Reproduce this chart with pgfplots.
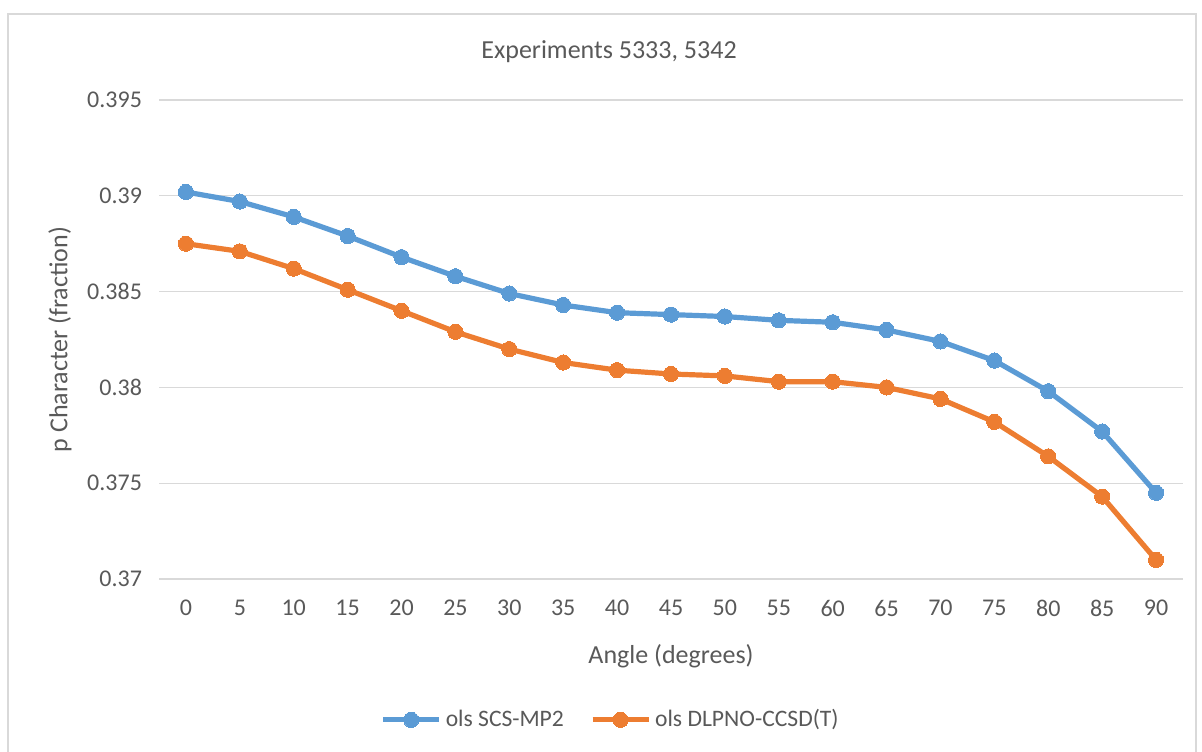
\documentclass[border=0pt]{standalone}
\usepackage{fontspec}
\setmainfont{Carlito}
\usepackage{pgfplots}
\pgfplotsset{compat=1.18}

\definecolor{xlblue}{HTML}{5B9BD5}
\definecolor{xlorange}{HTML}{ED7D31}
\definecolor{xltext}{HTML}{595959}
\definecolor{xlgrid}{HTML}{D9D9D9}

% angle (degrees) vs p character
\pgfplotstableread{
angle scs dlpno
0  0.3902 0.3875
5  0.3897 0.3871
10 0.3889 0.3862
15 0.3879 0.3851
20 0.3868 0.3840
25 0.3858 0.3829
30 0.3849 0.3820
35 0.3843 0.3813
40 0.3839 0.3809
45 0.3838 0.3807
50 0.3837 0.3806
55 0.3835 0.3803
60 0.3834 0.3803
65 0.3830 0.3800
70 0.3824 0.3794
75 0.3814 0.3782
80 0.3798 0.3764
85 0.3777 0.3743
90 0.3745 0.3710
}\datatable

\begin{document}
\begin{tikzpicture}[x=1pt,y=1pt]
  % page: 1202 x 751 px at 0.5pt per px, axis box at the origin
  \path[use as bounding box] (-79.5,-86) rectangle (521.5,289.5);
  % chart area border (bottom edge falls off the page)
  \draw[xlgrid, line width=0.6pt] (-75.5,-95) -- (-75.5,282.5) -- (518.5,282.5) -- (518.5,-95);

  \begin{axis}[
      scale only axis,
      width=512pt, height=239.5pt,
      xmin=-2.5, xmax=92.5,
      ymin=0.37, ymax=0.395,
      xtick={0,5,...,90},
      ytick={0.37,0.375,0.38,0.385,0.39,0.395},
      yticklabels={0.37,0.375,0.38,0.385,0.39,0.395},
      /pgf/number format/assume math mode=true,
      tick style={draw=none},
      axis line style={draw=none},
      ymajorgrids=true,
      major grid style={xlgrid, line width=0.6pt},
      ticklabel style={font=\fontsize{12}{14}\selectfont, text=xltext},
      xticklabel style={yshift=-7pt},
      yticklabel style={xshift=-5pt},
      xlabel={Angle (degrees)},
      ylabel={p Character (fraction)},
      label style={font=\fontsize{13}{15}\selectfont, text=xltext},
      xlabel style={yshift=-7pt},
      ylabel style={yshift=1pt},
      title={Experiments 5333, 5342},
      % Excel centres title and legend on the chart area, not the plot area
      title style={at={(0.4395,1)}, anchor=center, yshift=18pt,
        font=\fontsize{13}{15}\selectfont, text=xltext},
      legend style={at={(0.442,-0.294)}, anchor=center, draw=none,
        legend columns=2, font=\fontsize{11.8}{14}\selectfont, text=xltext,
        /tikz/every even column/.append style={column sep=11pt}},
      legend image code/.code={
        \draw[#1, mark repeat=2, mark phase=2] plot coordinates {(0pt,0pt) (14pt,0pt) (28pt,0pt)};},
  ]
    \addplot[xlblue, line width=2.6pt, mark=*, mark size=3.8pt,
      mark options={solid, fill=xlblue, draw=xlblue, line width=0pt}]
      table[x=angle, y=scs] {\datatable};
    \addlegendentry{ols SCS-MP2}
    \addplot[xlorange, line width=2.6pt, mark=*, mark size=3.8pt,
      mark options={solid, fill=xlorange, draw=xlorange, line width=0pt}]
      table[x=angle, y=dlpno] {\datatable};
    \addlegendentry{ols DLPNO-CCSD(T)}
  \end{axis}
\end{tikzpicture}
\end{document}
